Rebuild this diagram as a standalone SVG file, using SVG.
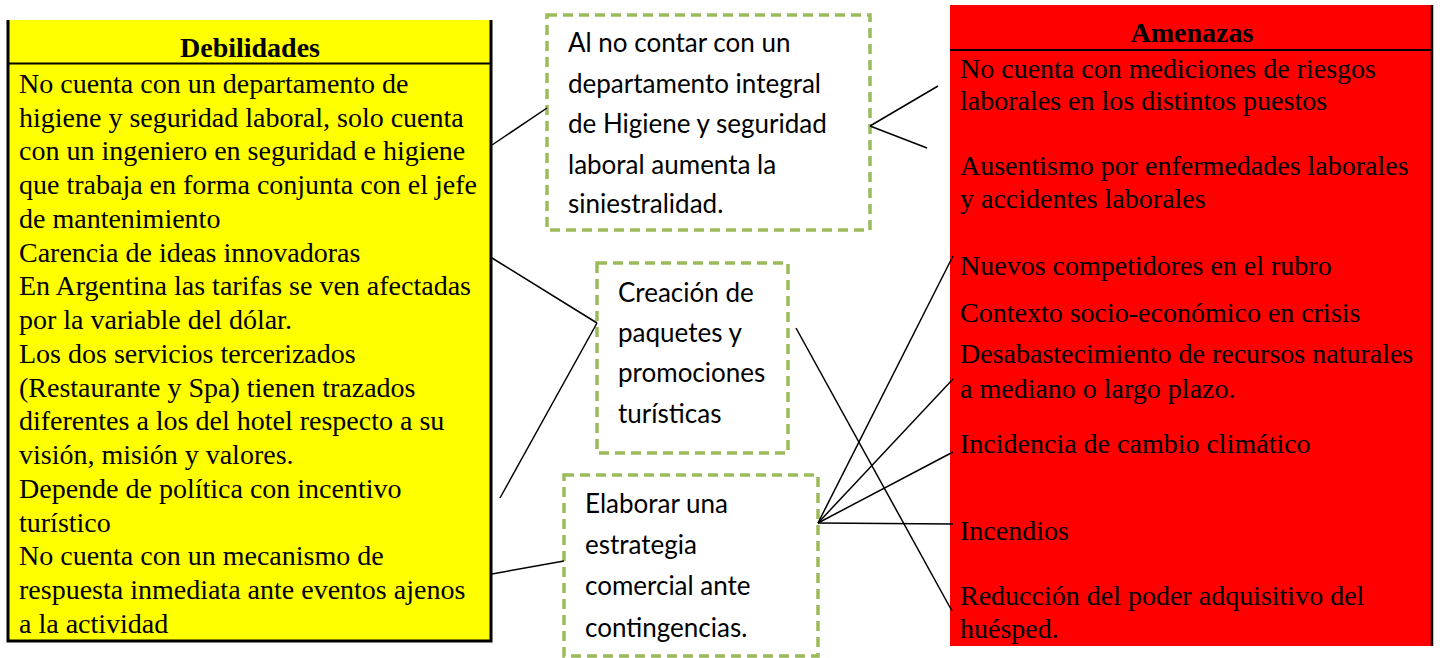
<svg xmlns="http://www.w3.org/2000/svg" width="1440" height="658" viewBox="0 0 1440 658">
<style>
.body{font-family:"Liberation Serif","Times New Roman",serif;font-size:28px;fill:#000}
.head{font-family:"Liberation Serif","Times New Roman",serif;font-size:28px;font-weight:bold;fill:#000;text-anchor:middle}
.cal{font-family:Lato,"Open Sans",sans-serif;font-size:26px;fill:#000}
.dash{fill:#fff;stroke:#9bbb59;stroke-width:3.5;stroke-dasharray:10 6}
.conn line{stroke:#000;stroke-width:1.5}
</style>
<rect width="1440" height="658" fill="#fff"/>
<g id="debilidades">
<rect x="8" y="20" width="483" height="621" fill="#ffff00"/>
<path d="M8 20 V641 H491 V20" fill="none" stroke="#000" stroke-width="3"/>
<line x1="8" y1="63.5" x2="491" y2="63.5" stroke="#000" stroke-width="2"/>
<text class="head" x="250" y="57">Debilidades</text>
<text class="body" x="19">
<tspan x="19" y="92.7">No cuenta con un departamento de</tspan>
<tspan x="19" y="126.5">higiene y seguridad laboral, solo cuenta</tspan>
<tspan x="19" y="160.2">con un ingeniero en seguridad e higiene</tspan>
<tspan x="19" y="194">que trabaja en forma conjunta con el jefe</tspan>
<tspan x="19" y="227.7">de mantenimiento</tspan>
<tspan x="19" y="261.5">Carencia de ideas innovadoras</tspan>
<tspan x="19" y="295.2">En Argentina las tarifas se ven afectadas</tspan>
<tspan x="19" y="329">por la variable del dólar.</tspan>
<tspan x="19" y="362.7">Los dos servicios tercerizados</tspan>
<tspan x="19" y="396.5">(Restaurante y  Spa) tienen trazados</tspan>
<tspan x="19" y="430.2">diferentes a los del hotel respecto a su</tspan>
<tspan x="19" y="464">visión, misión y valores.</tspan>
<tspan x="19" y="497.7">Depende de política con incentivo</tspan>
<tspan x="19" y="531.5">turístico</tspan>
<tspan x="19" y="565.2">No cuenta con un mecanismo de</tspan>
<tspan x="19" y="599">respuesta inmediata ante eventos ajenos</tspan>
<tspan x="19" y="632.7">a la actividad</tspan>
</text>
</g>
<g id="amenazas">
<rect x="950" y="5" width="482" height="641" fill="#ff0000"/>
<line x1="1432" y1="5" x2="1432" y2="646" stroke="#000" stroke-width="2.5"/>
<line x1="950" y1="50" x2="1432" y2="50" stroke="#000" stroke-width="2"/>
<text class="head" x="1192" y="42">Amenazas</text>
<text class="body">
<tspan x="960" y="78">No cuenta con mediciones de riesgos</tspan>
<tspan x="960" y="110">laborales en los distintos puestos</tspan>
<tspan x="960" y="175">Ausentismo por enfermedades laborales</tspan>
<tspan x="960" y="208">y accidentes laborales</tspan>
<tspan x="960" y="275">Nuevos competidores en el rubro</tspan>
<tspan x="960" y="322">Contexto socio-económico en crisis</tspan>
<tspan x="960" y="363">Desabastecimiento de recursos naturales</tspan>
<tspan x="960" y="398">a mediano o largo plazo.</tspan>
<tspan x="960" y="453">Incidencia de cambio climático</tspan>
<tspan x="960" y="540">Incendios</tspan>
<tspan x="960" y="605">Reducción del poder adquisitivo del</tspan>
<tspan x="960" y="638">huésped.</tspan>
</text>
</g>
<g id="box-siniestralidad">
<rect class="dash" x="547" y="15" width="323" height="215"/>
<text class="cal">
<tspan x="568" y="52">Al no contar con un</tspan>
<tspan x="568" y="93">departamento integral</tspan>
<tspan x="568" y="133">de Higiene y seguridad</tspan>
<tspan x="568" y="174">laboral aumenta la</tspan>
<tspan x="568" y="213">siniestralidad.</tspan>
</text>
</g>
<g id="box-paquetes">
<rect class="dash" x="597" y="263" width="191" height="190"/>
<text class="cal">
<tspan x="618" y="302">Creación de</tspan>
<tspan x="618" y="342">paquetes y</tspan>
<tspan x="618" y="382">promociones</tspan>
<tspan x="618" y="423">turísticas</tspan>
</text>
</g>
<g id="box-estrategia">
<rect class="dash" x="564" y="475" width="254" height="181"/>
<text class="cal">
<tspan x="585" y="513">Elaborar una</tspan>
<tspan x="585" y="554">estrategia</tspan>
<tspan x="585" y="595">comercial ante</tspan>
<tspan x="585" y="637">contingencias.</tspan>
</text>
</g>
<g id="connectors" class="conn">
<line x1="492" y1="145" x2="547" y2="108"/>
<line x1="870" y1="126" x2="938" y2="86"/>
<line x1="870" y1="126" x2="927" y2="148"/>
<line x1="492" y1="258" x2="597" y2="323"/>
<line x1="597" y1="323" x2="500" y2="498"/>
<line x1="492" y1="574" x2="564" y2="561"/>
<line x1="796" y1="328" x2="952" y2="611"/>
<line x1="818" y1="523" x2="953" y2="256"/>
<line x1="818" y1="523" x2="953" y2="379"/>
<line x1="818" y1="523" x2="953" y2="452"/>
<line x1="818" y1="523" x2="953" y2="524"/>
</g>
</svg>
